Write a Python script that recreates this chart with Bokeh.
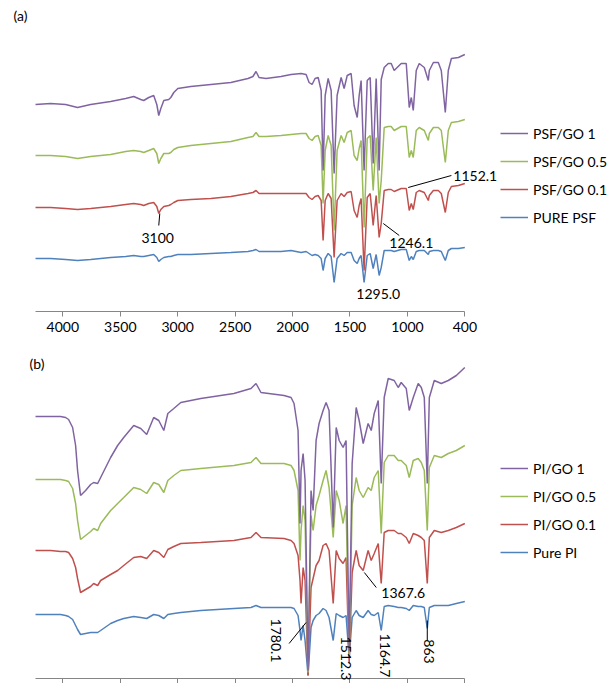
import math
from bokeh.plotting import figure
from bokeh.layouts import column
from bokeh.models import Range1d, FixedTicker, Legend, LegendItem, Label
from bokeh.embed import file_html
from bokeh.resources import INLINE

# ---------------- data: panel (a) PSF ----------------
wavenumber_a = [4238, 4107, 3976, 3872, 3758, 3584, 3453, 3383, 3322, 3296,
                3252, 3209, 3182, 3165, 3147, 3121, 3078, 3060, 3034, 2999,
                2886, 2711, 2537, 2388, 2345, 2318, 2292, 2231, 2101, 2013,
                1926, 1882, 1856, 1830, 1804, 1777, 1751, 1734, 1716, 1690,
                1664, 1638, 1612, 1577, 1551, 1524, 1490, 1464, 1437, 1420,
                1403, 1377, 1350, 1324, 1298, 1272, 1246, 1228, 1202, 1167,
                1141, 1115, 1054, 1010, 984, 966, 949, 923, 897, 853,
                818, 809, 774, 731, 705, 670, 644, 617, 556, 500]
psf_go_1 = [207, 208, 207, 204, 207, 210, 213, 215, 212, 211,
            214, 216, 207, 196, 203, 211, 212, 214, 219, 223,
            225, 227, 229, 233, 235, 240, 234, 233, 235, 237,
            238, 237, 229, 227, 233, 234, 221, 141, 216, 233,
            221, 138, 216, 234, 223, 236, 238, 206, 194, 216,
            231, 141, 231, 234, 148, 233, 141, 232, 244, 248,
            248, 241, 248, 248, 204, 214, 201, 241, 248, 244,
            231, 241, 249, 249, 241, 199, 241, 253, 254, 257]
psf_go_05 = [156, 156, 155, 153, 155, 157, 160, 161, 160, 159,
             161, 163, 158, 148, 153, 158, 158, 159, 162, 164,
             166, 168, 170, 174, 175, 179, 175, 175, 176, 177,
             178, 178, 173, 171, 175, 176, 166, 108, 161, 176,
             166, 81, 161, 176, 169, 179, 181, 156, 151, 163,
             171, 84, 173, 176, 121, 174, 108, 131, 184, 185,
             185, 181, 185, 185, 154, 161, 154, 181, 184, 181,
             171, 178, 184, 184, 181, 149, 181, 189, 190, 192]
psf_go_01 = [104, 104, 103, 102, 103, 105, 107, 108, 107, 106,
             108, 109, 105, 98, 102, 105, 106, 107, 109, 111,
             112, 113, 115, 118, 119, 121, 118, 118, 118, 118,
             118, 118, 114, 112, 115, 116, 111, 71, 111, 118,
             113, 54, 111, 118, 115, 119, 120, 101, 94, 106,
             113, 41, 114, 118, 86, 116, 74, 88, 121, 122,
             122, 120, 123, 123, 101, 108, 102, 119, 121, 119,
             111, 116, 121, 121, 118, 99, 119, 125, 126, 128]
pure_psf = [53, 53, 52, 51, 52, 54, 55, 56, 55, 55,
            56, 57, 54, 50, 52, 54, 55, 55, 56, 57,
            57, 58, 59, 60, 61, 62, 60, 60, 60, 61,
            59, 60, 58, 56, 57, 56, 53, 41, 53, 58,
            55, 29, 53, 58, 56, 59, 59, 51, 48, 53,
            56, 29, 56, 58, 43, 57, 36, 44, 61, 61,
            61, 60, 62, 62, 51, 55, 52, 60, 61, 61,
            57, 60, 61, 61, 60, 51, 61, 63, 63, 64]

# ---------------- data: panel (b) PI ----------------
wavenumber_b = [4238, 4107, 4020, 3976, 3950, 3915, 3889, 3872, 3846, 3802,
                3758, 3732, 3697, 3671, 3584, 3523, 3470, 3383, 3322, 3270,
                3209, 3165, 3121, 3086, 3034, 2973, 2799, 2511, 2362, 2318,
                2275, 2074, 2013, 1987, 1952, 1935, 1926, 1908, 1891, 1865,
                1839, 1821, 1795, 1769, 1734, 1708, 1682, 1646, 1620, 1594,
                1560, 1534, 1507, 1481, 1446, 1420, 1385, 1342, 1315, 1289,
                1254, 1228, 1202, 1167, 1115, 1080, 1054, 1010, 984, 949,
                906, 879, 853, 827, 809, 766, 705, 644, 574, 500]
pi_go_1 = [262, 262, 262, 261, 259, 251, 233, 208, 183, 188,
           194, 196, 195, 201, 221, 233, 241, 253, 250, 244,
           261, 258, 248, 265, 270, 276, 280, 285, 290, 295,
           286, 283, 281, 275, 248, 155, 208, 225, 198, 8,
           188, 168, 238, 255, 268, 276, 268, 151, 251, 238,
           231, 238, 28, 215, 271, 258, 235, 255, 248, 265,
           278, 195, 281, 300, 298, 291, 296, 290, 268, 281,
           295, 291, 281, 195, 281, 298, 295, 298, 303, 311]
pi_go_05 = [199, 199, 199, 198, 197, 190, 175, 158, 139, 143,
            147, 150, 148, 155, 168, 175, 181, 191, 189, 185,
            196, 194, 186, 198, 203, 208, 210, 213, 216, 221,
            215, 215, 213, 208, 188, 118, 148, 173, 158, 6,
            163, 148, 173, 183, 198, 208, 191, 141, 188, 178,
            155, 173, 23, 173, 201, 188, 181, 191, 188, 201,
            208, 145, 216, 223, 223, 218, 218, 213, 201, 218,
            220, 216, 208, 148, 211, 223, 221, 225, 228, 233]
pi_go_01 = [128, 128, 127, 127, 126, 120, 111, 100, 86, 89,
            92, 95, 93, 98, 104, 108, 113, 121, 122, 120,
            128, 126, 121, 129, 132, 135, 136, 138, 141, 146,
            141, 140, 138, 135, 123, 98, 75, 111, 98, 3,
            91, 100, 113, 118, 133, 135, 128, 75, 128, 120,
            115, 121, 16, 106, 128, 113, 108, 128, 118, 125,
            135, 95, 146, 148, 148, 145, 145, 141, 135, 145,
            143, 141, 138, 95, 141, 148, 146, 148, 151, 155]
pure_pi = [64, 64, 64, 63, 62, 59, 53, 49, 44, 45,
           46, 46, 46, 48, 55, 58, 60, 62, 61, 60,
           64, 63, 60, 64, 65, 66, 68, 70, 71, 73,
           71, 71, 71, 70, 63, 48, 38, 53, 38, 3,
           51, 58, 63, 65, 70, 68, 61, 38, 65, 63,
           61, 63, 21, 61, 68, 63, 61, 68, 64, 63,
           66, 48, 72, 73, 72, 71, 71, 70, 68, 73,
           72, 72, 71, 50, 71, 73, 73, 73, 75, 77]

# ---------------- axis ticks ----------------
tick_values = [4000, 3500, 3000, 2500, 2000, 1500, 1000, 500]
tick_labels = ["4000", "3500", "3000", "2500", "2000", "1500", "1000", "400"]

# ---------------- peak annotations ----------------
ann_a_text = ["3100", "1152.1", "1246.1", "1295.0"]
ann_a_x = [3174, 600, 966, 1254]
ann_a_y = [74, 136, 69, 18]
ann_a_align = ["center", "left", "center", "center"]
lead_a_x0 = [3156, 993, 1210]
lead_a_y0 = [98, 124, 88]
lead_a_x1 = [3165, 617, 1071]
lead_a_y1 = [86, 136, 76]

ann_b_text = ["1367.6", "1780.1", "1512.3", "1164.7", "863"]
ann_b_x = [1036, 2144, 1533, 1193, 809]
ann_b_y = [86, 38, 20, 23, 27]
ann_b_rot = [0, -90, -90, -90, -90]
lead_b_x0 = [1375, 2030, 827]
lead_b_y0 = [106, 35, 58]
lead_b_x1 = [1271, 1882, 827]
lead_b_y1 = [91, 56, 38]

labels_a = ["PSF/GO 1", "PSF/GO 0.5", "PSF/GO 0.1", "PURE PSF"]
labels_b = ["PI/GO 1", "PI/GO 0.5", "PI/GO 0.1", "Pure PI"]

PURPLE, GREEN, RED, BLUE = "#8064A2", "#9BBB59", "#C0504D", "#4F81BD"
FONT = "Lato"
AXIS_COLOR = "#868686"


def make_panel(height, b_bottom, y_start, y_end):
    p = figure(width=615, height=height,
               x_range=Range1d(4543, -812), y_range=Range1d(y_start, y_end),
               output_backend="svg", toolbar_location=None,
               y_axis_location=None,
               min_border_left=0, min_border_right=0,
               min_border_top=0, min_border_bottom=b_bottom)
    p.outline_line_color = None
    p.xgrid.visible = False
    p.ygrid.visible = False
    p.background_fill_color = "white"
    p.border_fill_color = "white"
    ax = p.xaxis[0]
    ax.bounds = (500, 4238)
    ax.ticker = FixedTicker(ticks=tick_values)
    ax.major_label_overrides = dict(zip(tick_values, tick_labels))
    ax.axis_line_color = AXIS_COLOR
    ax.major_tick_line_color = AXIS_COLOR
    ax.major_tick_in = 0
    ax.major_tick_out = 5
    ax.minor_tick_line_color = None
    ax.major_label_text_font = FONT
    ax.major_label_text_color = "#000000"
    ax.major_label_text_font_size = "14px"
    ax.major_label_standoff = 5
    return p


def add_series(p, x, ys, names, legend_loc):
    order = [(ys[3], BLUE), (ys[2], RED), (ys[1], GREEN), (ys[0], PURPLE)]
    rends = []
    for y, c in order:
        rends.append(p.line(x, y, line_color=c, line_width=1.5))
    items = [LegendItem(label=names[0], renderers=[rends[3]]),
             LegendItem(label=names[1], renderers=[rends[2]]),
             LegendItem(label=names[2], renderers=[rends[1]]),
             LegendItem(label=names[3], renderers=[rends[0]])]
    leg = Legend(items=items, location=legend_loc,
                 glyph_width=28, glyph_height=20, label_height=20,
                 spacing=8, padding=0, margin=0, label_standoff=5,
                 border_line_color=None, background_fill_alpha=0,
                 label_text_font=FONT, label_text_font_size="14px",
                 label_text_color="#000000")
    p.add_layout(leg)


# ---------------- panel (a) ----------------
pa = make_panel(345, 34, 0, 311)
add_series(pa, wavenumber_a, [psf_go_1, psf_go_05, psf_go_01, pure_psf], labels_a, (500, 84))
pa.segment(lead_a_x0, lead_a_y0, lead_a_x1, lead_a_y1, line_color="black", line_width=1)
for t, x, y, al in zip(ann_a_text, ann_a_x, ann_a_y, ann_a_align):
    pa.add_layout(Label(x=x, y=y, text=t, text_align=al, text_baseline="middle",
                        text_font=FONT, text_font_size="14px", text_color="#000000"))
pa.add_layout(Label(x=13, y=296, x_units="screen", y_units="screen", text="(a)",
                    text_baseline="middle", text_font=FONT, text_font_size="14px",
                    text_color="#000000"))

# ---------------- panel (b) ----------------
# frame fills the whole figure; the axis sits at y=0 and its labels fall below the page edge
pb = make_panel(338, 0, -5, 333)
pb.xaxis[0].fixed_location = 0
add_series(pb, wavenumber_b, [pi_go_1, pi_go_05, pi_go_01, pure_pi], labels_b, (500, 121))
pb.segment(lead_b_x0, lead_b_y0, lead_b_x1, lead_b_y1, line_color="black", line_width=1)
for t, x, y, r in zip(ann_b_text, ann_b_x, ann_b_y, ann_b_rot):
    pb.add_layout(Label(x=x, y=y, text=t, text_align="center", text_baseline="middle",
                        angle=math.radians(r), text_font=FONT, text_font_size="14px",
                        text_color="#000000"))
pb.add_layout(Label(x=29, y=320, x_units="screen", y_units="screen", text="(b)",
                    text_baseline="middle", text_font=FONT, text_font_size="14px",
                    text_color="#000000"))

layout = column(pa, pb, spacing=0)
open("out.html", "w").write(file_html(layout, INLINE))
